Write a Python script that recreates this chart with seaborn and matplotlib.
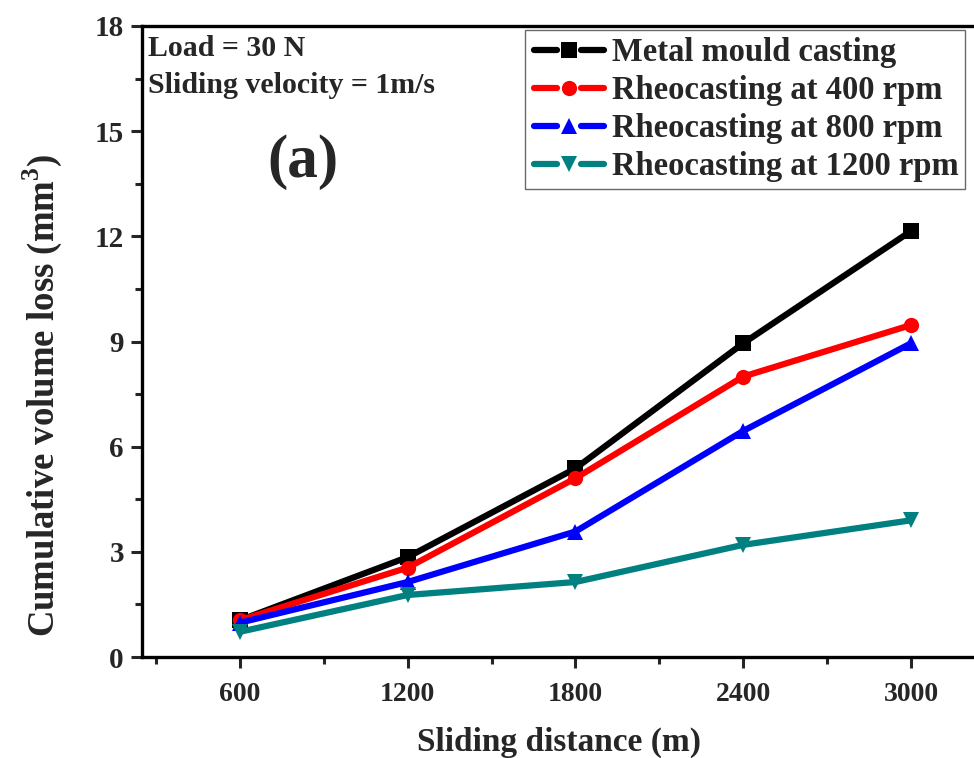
import matplotlib
matplotlib.use("Agg")
import matplotlib.pyplot as plt
from matplotlib.lines import Line2D
from matplotlib.legend_handler import HandlerLine2D
from matplotlib.ticker import MultipleLocator
import seaborn as sns
import pandas as pd

# Sliding distance (m)
distance = [600, 1200, 1800, 2400, 3000]

# Cumulative volume loss (mm^3) per processing route
metal_mould = [1.05, 2.85, 5.38, 8.95, 12.15]
rheo_400 = [1.05, 2.55, 5.10, 8.00, 9.47]
rheo_800 = [0.98, 2.14, 3.58, 6.45, 8.95]
rheo_1200 = [0.72, 1.77, 2.14, 3.20, 3.90]

labels = ["Metal mould casting", "Rheocasting at 400 rpm",
          "Rheocasting at 800 rpm", "Rheocasting at 1200 rpm"]
series = [metal_mould, rheo_400, rheo_800, rheo_1200]
colors = ["#000000", "#ff0000", "#0000ff", "#008080"]
markers = ["s", "o", "^", "v"]


class GappedLineHandler(HandlerLine2D):
    """Legend key: two line stubs with the marker sitting in the gap."""

    def create_artists(self, legend, orig_handle, xdescent, ydescent,
                       width, height, fontsize, trans):
        y = height / 2.0 - ydescent
        x0, x1 = -xdescent, -xdescent + width
        xm = (x0 + x1) / 2.0
        gap = 0.16 * width
        style = dict(color=orig_handle.get_color(),
                     linewidth=orig_handle.get_linewidth(),
                     solid_capstyle="round")
        left = Line2D([x0 + 2, xm - gap], [y, y], **style)
        right = Line2D([xm + gap, x1 - 2], [y, y], **style)
        mark = Line2D([xm], [y], linestyle="none",
                      marker=orig_handle.get_marker(),
                      markersize=orig_handle.get_markersize(),
                      markeredgewidth=0,
                      color=orig_handle.get_color())
        artists = [left, right, mark]
        for a in artists:
            a.set_transform(trans)
        return artists


sns.set_style("ticks")
plt.rcParams["font.family"] = ["Liberation Serif", "DejaVu Serif"]
plt.rcParams["font.weight"] = "bold"
plt.rcParams["mathtext.fontset"] = "custom"
plt.rcParams["mathtext.rm"] = "Liberation Serif:bold"

fig = plt.figure(figsize=(9.74, 7.58), dpi=100)
ax = fig.add_axes([0.1458, 0.1332, 0.89, 0.8325])

for lab, vals, col, mk in zip(labels, series, colors, markers):
    df = pd.DataFrame({"distance": distance, "loss": vals})
    sns.lineplot(data=df, x="distance", y="loss", ax=ax, color=col,
                 marker=mk, markersize=11, markeredgewidth=0,
                 linewidth=4.5, label=lab)

ax.set_xlim(250, 3350)
ax.set_ylim(0, 18)
ax.set_xticks(distance)
ax.xaxis.set_minor_locator(MultipleLocator(300))
ax.yaxis.set_major_locator(MultipleLocator(3))
ax.yaxis.set_minor_locator(MultipleLocator(1.5))

for side in ["left", "bottom", "top", "right"]:
    ax.spines[side].set_linewidth(2.4)
    ax.spines[side].set_color("black")

ax.tick_params(axis="both", which="major", direction="out", length=8,
               width=2.2)
ax.tick_params(axis="x", which="major", labelsize=20, pad=10)
ax.tick_params(axis="y", which="major", labelsize=21, pad=5)
ax.tick_params(axis="both", which="minor", direction="out", length=5,
               width=2.2)
ax.tick_params(top=False, right=False)
for t in ax.get_xticklabels() + ax.get_yticklabels():
    t.set_fontweight("bold")

ax.set_xlabel("Sliding distance (m)", fontsize=24, fontweight="bold")
ax.xaxis.set_label_coords(0.481, -0.135)
ax.xaxis.label.set_va("center")
ax.set_ylabel("Cumulative volume loss (mm$^3$)", fontsize=26.5,
              fontweight="bold")
ax.yaxis.set_label_coords(-0.115, 0.415)
ax.yaxis.label.set_va("center")

ax.text(0.007, 0.985, "Load = 30 N\nSliding velocity = 1m/s",
        transform=ax.transAxes, ha="left", va="top", fontsize=21.5,
        fontweight="bold", linespacing=1.45)
ax.text(0.186, 0.785, "(a)", transform=ax.transAxes, ha="center",
        va="center", fontsize=44, fontweight="bold")

handles, leg_labels = ax.get_legend_handles_labels()
leg = ax.legend(handles, leg_labels, loc="upper left",
                bbox_to_anchor=(0.442, 0.993), fontsize=23.5,
                frameon=True, fancybox=False, edgecolor="#444444",
                handlelength=2.3, handletextpad=0.15, borderpad=0.2,
                labelspacing=0.22, borderaxespad=0,
                handler_map={Line2D: GappedLineHandler()})
leg.get_frame().set_linewidth(1.0)
for txt in leg.get_texts():
    txt.set_fontweight("bold")

fig.savefig("out.png", dpi=100)
